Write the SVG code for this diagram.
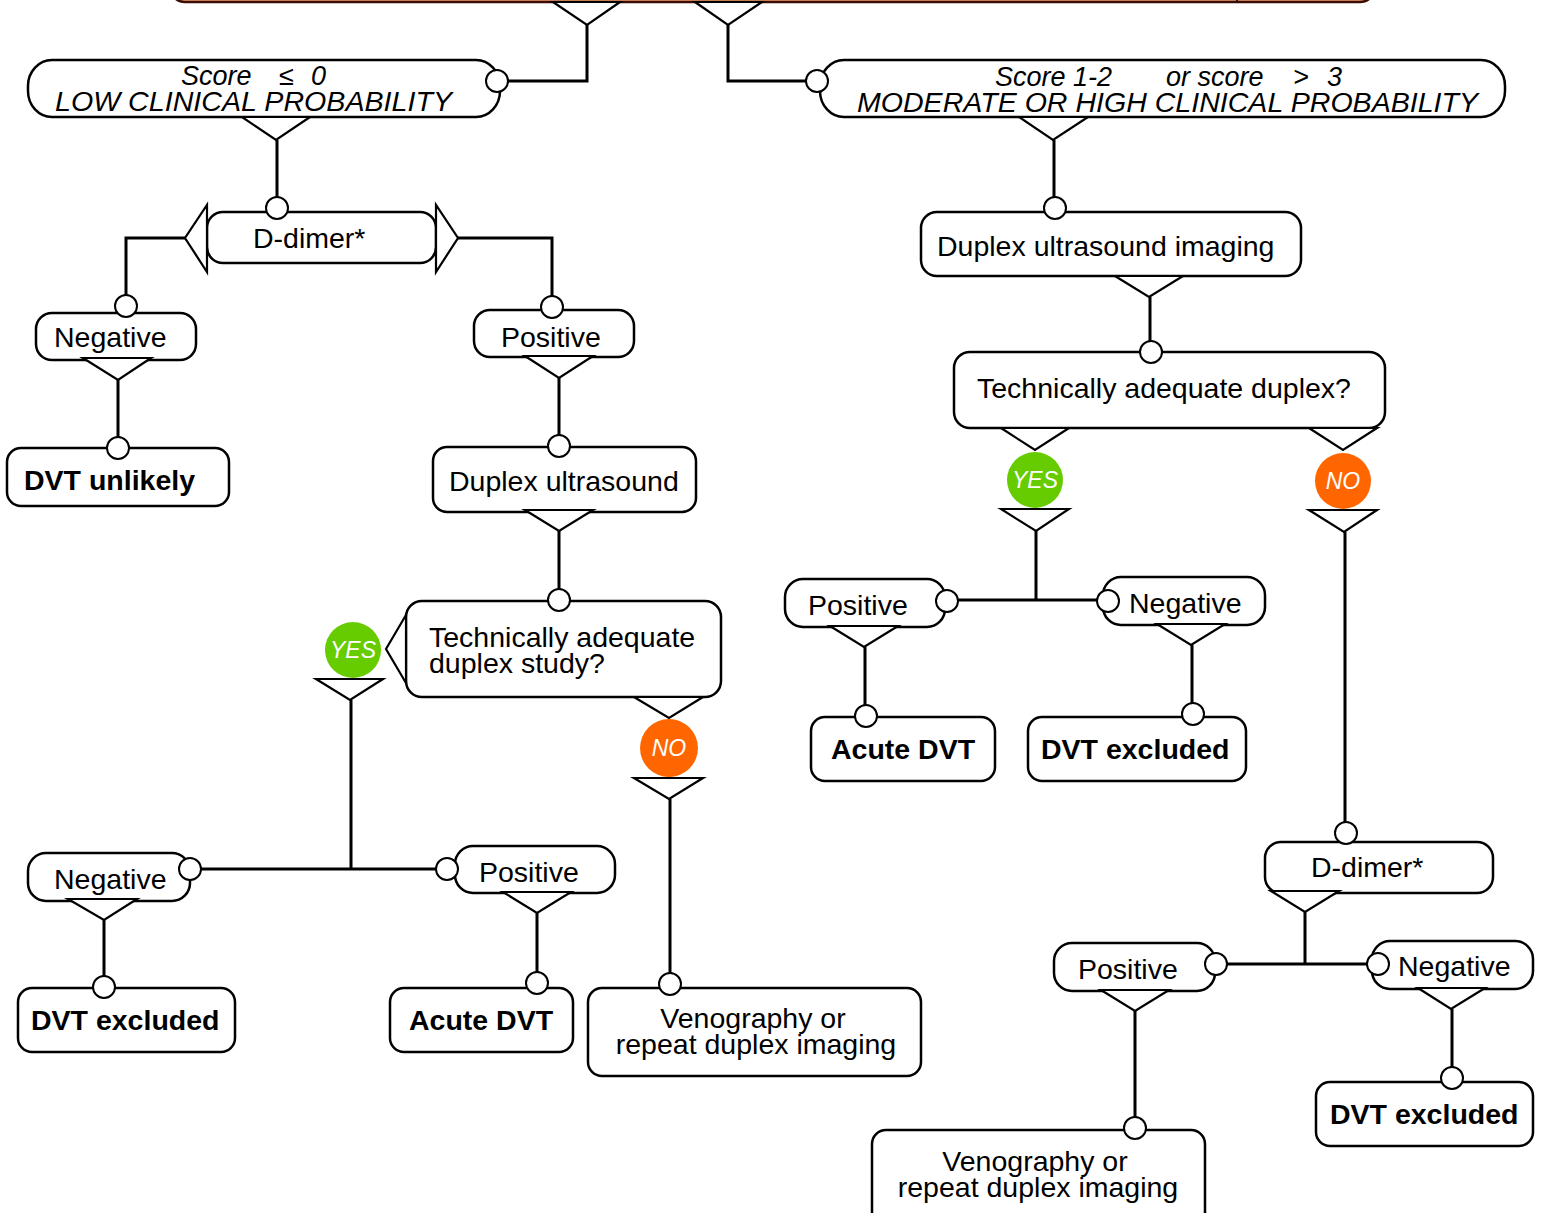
<svg xmlns="http://www.w3.org/2000/svg" width="1544" height="1213" viewBox="0 0 1544 1213">
<style>
.box{fill:#fff;stroke:#000;stroke-width:2.5}
.tri{fill:#fff;stroke:#000;stroke-width:2.2;stroke-linejoin:miter}
.port{fill:#fff;stroke:#000;stroke-width:2}
.wire{fill:none;stroke:#000;stroke-width:3}
.t{font-family:"Liberation Sans",Arial,sans-serif;font-size:28.5px;fill:#000}
.s{font-size:27px}
.b{font-weight:bold}
.i{font-style:italic}
.c{text-anchor:middle}
.yn{font-family:"Liberation Sans",Arial,sans-serif;font-size:23px;font-style:italic;fill:#fff;text-anchor:middle}
.yes{fill:#66cc00}
.no{fill:#ff6600}
</style>
<rect width="1544" height="1213" fill="#fff"/>
<g id="top">
<rect x="170" y="-60" width="1205" height="62" rx="15" fill="#f5a26f" stroke="#3a0d00" stroke-width="2.5"/>
<line x1="1237" y1="-60" x2="1237" y2="2" stroke="#1a1a1a" stroke-width="2"/>
</g>
<g id="low">
<rect class="box" x="28" y="60" width="472" height="57" rx="24" ry="26"/>
<text class="t i s" x="181" y="85">Score</text>
<text class="t i s" x="279" y="85">≤</text>
<text class="t i s" x="311" y="85">0</text>
<text class="t i" x="55" y="111" textLength="397" lengthAdjust="spacingAndGlyphs">LOW CLINICAL PROBABILITY</text>
</g>
<g id="moderate">
<rect class="box" x="820" y="60" width="685" height="57" rx="24" ry="26"/>
<text class="t i s" x="995" y="86">Score 1-2</text>
<text class="t i s" x="1166" y="86">or score</text>
<text class="t i s" x="1293" y="86">&gt;</text>
<text class="t i s" x="1327" y="86">3</text>
<text class="t i" x="857" y="112" textLength="621" lengthAdjust="spacingAndGlyphs">MODERATE OR HIGH CLINICAL PROBABILITY</text>
</g>
<g id="ddimer1">
<rect class="box" x="207" y="212" width="229" height="51" rx="16"/>
<text class="t" x="253" y="248">D-dimer*</text>
</g>
<g id="neg1">
<rect class="box" x="36" y="313" width="160" height="47" rx="16"/>
<text class="t" x="54" y="347">Negative</text>
</g>
<g id="unlikely">
<rect class="box" x="7" y="448" width="222" height="58" rx="14"/>
<text class="t b" x="24" y="490">DVT unlikely</text>
</g>
<g id="pos1">
<rect class="box" x="474" y="310" width="160" height="47" rx="16"/>
<text class="t" x="501" y="347">Positive</text>
</g>
<g id="duplex1">
<rect class="box" x="433" y="447" width="263" height="65" rx="14"/>
<text class="t" x="449" y="491">Duplex ultrasound</text>
</g>
<g id="tech1">
<rect class="box" x="406" y="601" width="315" height="96" rx="16"/>
<text class="t" x="429" y="647">Technically adequate</text>
<text class="t" x="429" y="673">duplex study?</text>
</g>
<g id="yes1"><circle class="yes" cx="353" cy="650" r="28"/><text class="yn" x="353" y="658">YES</text></g>
<g id="no1"><circle class="no" cx="669" cy="748" r="29"/><text class="yn" x="669" y="756">NO</text></g>
<g id="neg2">
<rect class="box" x="28" y="853" width="162" height="48" rx="18"/>
<text class="t" x="54" y="889">Negative</text>
</g>
<g id="pos2">
<rect class="box" x="455" y="846" width="160" height="47" rx="18"/>
<text class="t" x="479" y="882">Positive</text>
</g>
<g id="excl1">
<rect class="box" x="18" y="988" width="217" height="64" rx="14"/>
<text class="t b" x="31" y="1030">DVT excluded</text>
</g>
<g id="acute1">
<rect class="box" x="390" y="988" width="183" height="64" rx="14"/>
<text class="t b" x="409" y="1030">Acute DVT</text>
</g>
<g id="veno1">
<rect class="box" x="588" y="988" width="333" height="88" rx="14"/>
<text class="t c" x="753" y="1028">Venography or</text>
<text class="t c" x="756" y="1054">repeat duplex imaging</text>
</g>
<g id="duplex2">
<rect class="box" x="921" y="212" width="380" height="64" rx="16"/>
<text class="t" x="937" y="256">Duplex ultrasound imaging</text>
</g>
<g id="tech2">
<rect class="box" x="954" y="352" width="431" height="76" rx="16"/>
<text class="t" x="977" y="398">Technically adequate duplex?</text>
</g>
<g id="yes2"><circle class="yes" cx="1035" cy="480" r="28"/><text class="yn" x="1035" y="488">YES</text></g>
<g id="no2"><circle class="no" cx="1343" cy="481" r="28"/><text class="yn" x="1343" y="489">NO</text></g>
<g id="pos3">
<rect class="box" x="785" y="579" width="160" height="48" rx="18"/>
<text class="t" x="808" y="615">Positive</text>
</g>
<g id="neg3">
<rect class="box" x="1103" y="577" width="162" height="48" rx="18"/>
<text class="t" x="1129" y="613">Negative</text>
</g>
<g id="acute2">
<rect class="box" x="811" y="717" width="184" height="64" rx="14"/>
<text class="t b" x="831" y="759">Acute DVT</text>
</g>
<g id="excl2">
<rect class="box" x="1028" y="717" width="218" height="64" rx="14"/>
<text class="t b" x="1041" y="759">DVT excluded</text>
</g>
<g id="ddimer2">
<rect class="box" x="1265" y="842" width="228" height="51" rx="16"/>
<text class="t" x="1311" y="877">D-dimer*</text>
</g>
<g id="pos4">
<rect class="box" x="1054" y="943" width="161" height="48" rx="18"/>
<text class="t" x="1078" y="979">Positive</text>
</g>
<g id="neg4">
<rect class="box" x="1372" y="941" width="161" height="48" rx="18"/>
<text class="t" x="1398" y="976">Negative</text>
</g>
<g id="excl3">
<rect class="box" x="1316" y="1082" width="217" height="64" rx="14"/>
<text class="t b" x="1330" y="1124">DVT excluded</text>
</g>
<g id="veno2">
<rect class="box" x="872" y="1130" width="333" height="110" rx="14"/>
<text class="t c" x="1035" y="1171">Venography or</text>
<text class="t c" x="1038" y="1197">repeat duplex imaging</text>
</g>
<g id="connectors">
<path class="wire" d="M587,25V81H508 M728,25V81H806 M277,140V197 M185,238H126V295 M458,238H552V296 M118,380V437 M559,378V435 M559,531V589 M351,700V869 M201,869H436 M670,799V973 M104,920V976 M537,913V972 M1054,140V197 M1150,297V341 M1036,531V600 M958,600H1097 M1345,532V822 M865,647V705 M1192,645V703 M1305,912V964 M1227,964H1367 M1135,1011V1117 M1452,1009V1067"/>
<polygon class="tri" points="553,2 620,2 587,25"/>
<polygon class="tri" points="695,2 762,2 728,25"/>
<polygon class="tri" points="242,117 310,117 276,140"/>
<polygon class="tri" points="207,205 207,272 185,238"/>
<polygon class="tri" points="436,205 436,272 458,238"/>
<polygon class="tri" points="83,358 151,358 118,380"/>
<polygon class="tri" points="525,356 593,356 559,378"/>
<polygon class="tri" points="525,510 593,510 559,531"/>
<polygon class="tri" points="406,615 406,683 386,649"/>
<polygon class="tri" points="316,679 383,679 350,700"/>
<polygon class="tri" points="634,697 703,697 669,718"/>
<polygon class="tri" points="634,778 703,778 669,799"/>
<polygon class="tri" points="68,899 137,899 104,920"/>
<polygon class="tri" points="503,892 571,892 537,913"/>
<polygon class="tri" points="1019,117 1088,117 1053,140"/>
<polygon class="tri" points="1115,276 1183,276 1149,297"/>
<polygon class="tri" points="1001,428 1069,428 1035,450"/>
<polygon class="tri" points="1309,428 1377,428 1343,450"/>
<polygon class="tri" points="1001,509 1069,509 1036,531"/>
<polygon class="tri" points="1309,510 1377,510 1344,532"/>
<polygon class="tri" points="830,626 898,626 864,647"/>
<polygon class="tri" points="1157,624 1225,624 1191,645"/>
<polygon class="tri" points="1271,891 1339,891 1305,912"/>
<polygon class="tri" points="1101,990 1169,990 1135,1011"/>
<polygon class="tri" points="1418,988 1485,988 1451,1009"/>
<circle class="port" cx="497" cy="81" r="11"/>
<circle class="port" cx="817" cy="81" r="11"/>
<circle class="port" cx="277" cy="208" r="11"/>
<circle class="port" cx="126" cy="306" r="11"/>
<circle class="port" cx="552" cy="307" r="11"/>
<circle class="port" cx="118" cy="448" r="11"/>
<circle class="port" cx="559" cy="446" r="11"/>
<circle class="port" cx="559" cy="600" r="11"/>
<circle class="port" cx="190" cy="869" r="11"/>
<circle class="port" cx="447" cy="869" r="11"/>
<circle class="port" cx="670" cy="984" r="11"/>
<circle class="port" cx="104" cy="987" r="11"/>
<circle class="port" cx="537" cy="983" r="11"/>
<circle class="port" cx="1055" cy="208" r="11"/>
<circle class="port" cx="1151" cy="352" r="11"/>
<circle class="port" cx="947" cy="601" r="11"/>
<circle class="port" cx="1108" cy="601" r="11"/>
<circle class="port" cx="866" cy="716" r="11"/>
<circle class="port" cx="1193" cy="714" r="11"/>
<circle class="port" cx="1346" cy="833" r="11"/>
<circle class="port" cx="1216" cy="964" r="11"/>
<circle class="port" cx="1378" cy="964" r="11"/>
<circle class="port" cx="1135" cy="1128" r="11"/>
<circle class="port" cx="1452" cy="1078" r="11"/>
</g>
</svg>
